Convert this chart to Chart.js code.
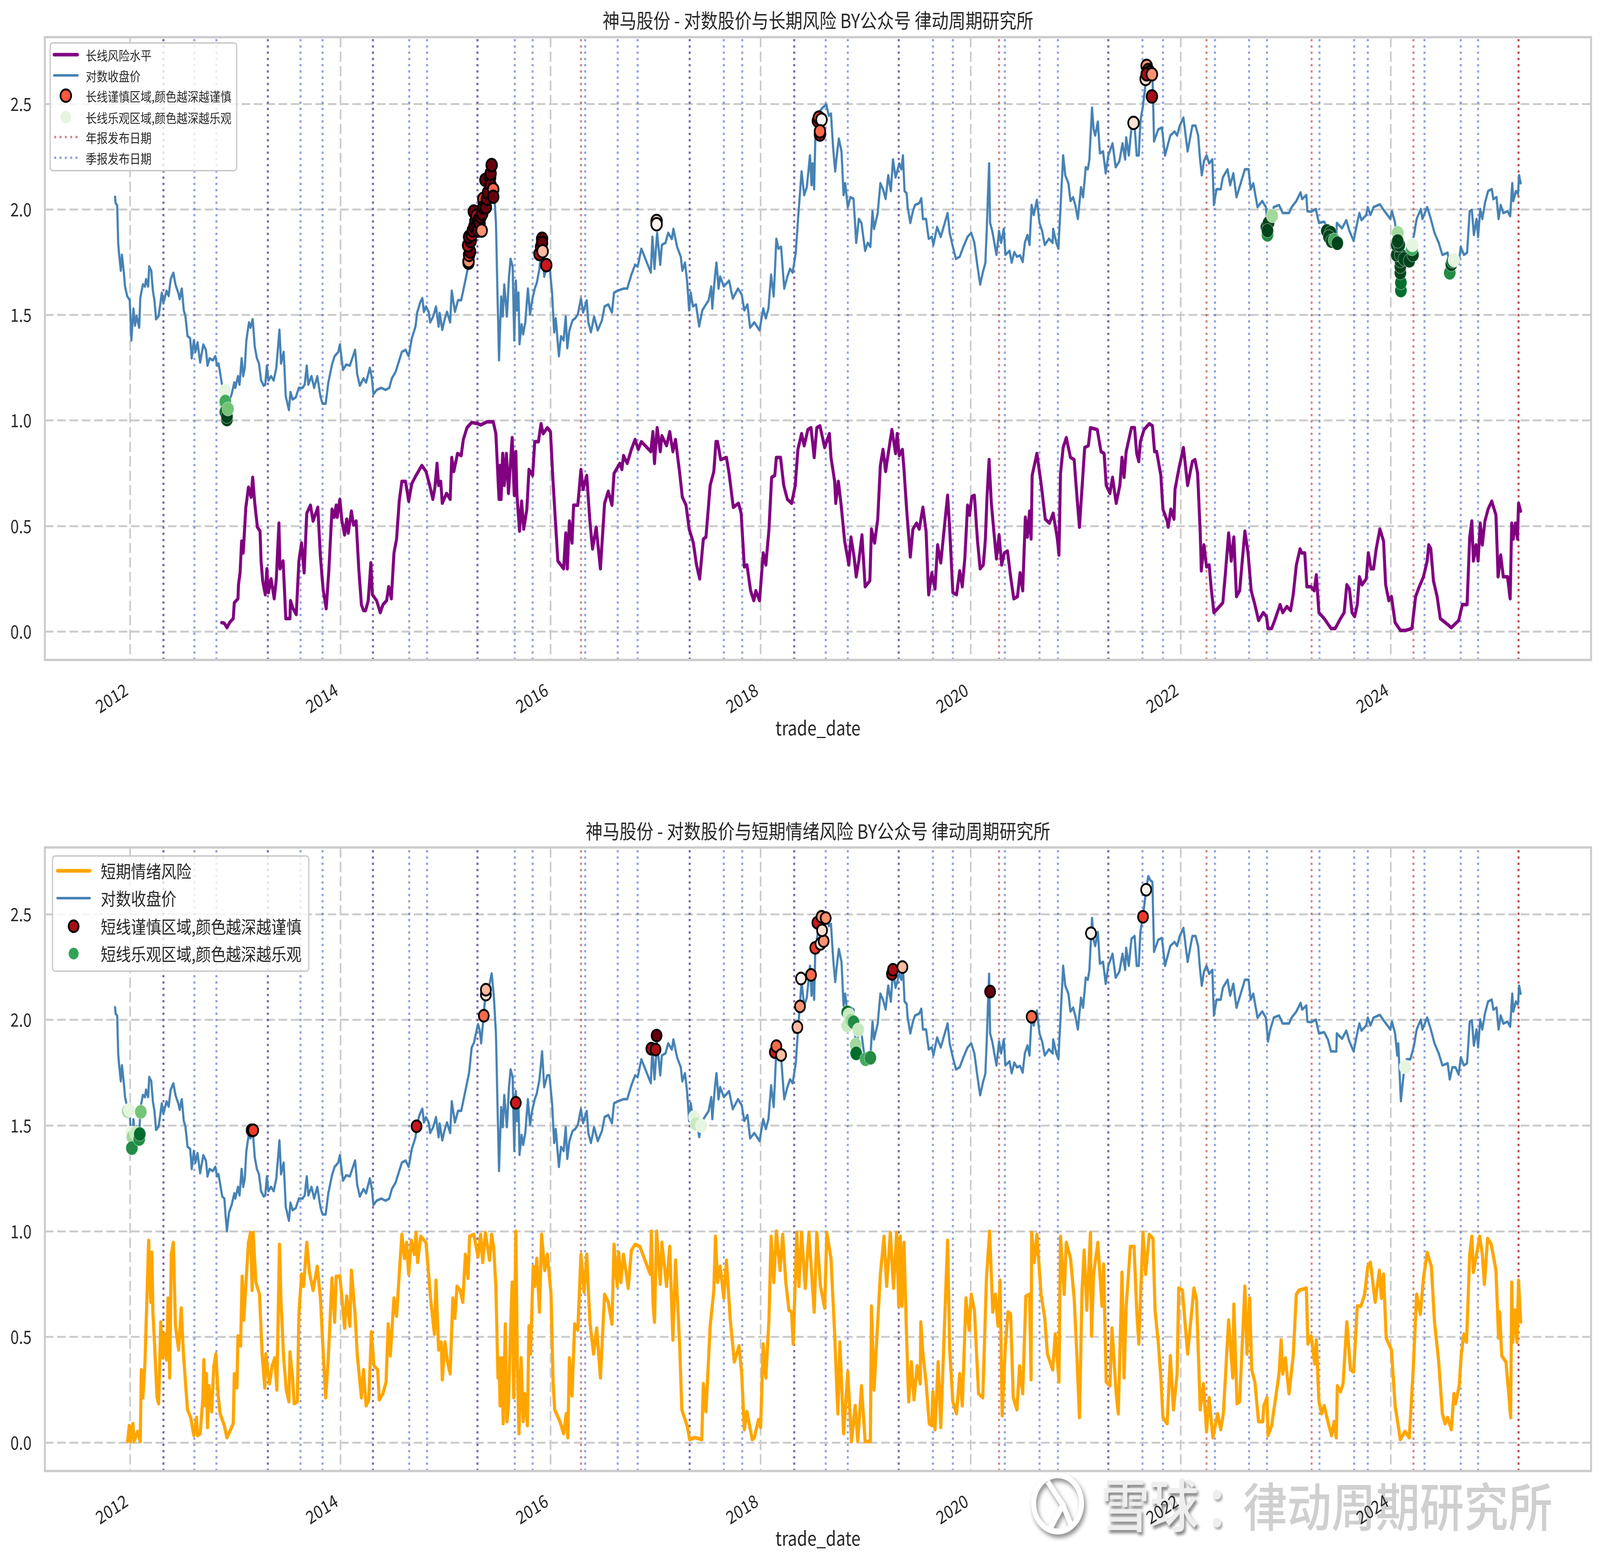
<!DOCTYPE html>
<html>
<head>
<meta charset="utf-8">
<title>神马股份</title>
<script src="https://cdn.jsdelivr.net/npm/chart.js@4/dist/chart.umd.js"></script>
<style>
  html, body { margin: 0; padding: 0; background: #fff; overflow: hidden; }
  #page { position: relative; width: 4814px; height: 4000px; overflow: hidden; transform-origin: 0 0; font-family: "Noto Sans CJK SC", sans-serif; }
  canvas { position: absolute; left: 0; z-index: 2; }
  #top { top: 0; }
  #bottom { top: 2030px; }
  .mark { position: absolute; z-index: 1; line-height: 1; white-space: nowrap; font-weight: 500; }
  #logo { position: absolute; z-index: 1; left: 3100px; top: 3768px; filter: drop-shadow(5px 8px 6px #888); }
</style>
</head>
<body>
<div id="page">
  <svg id="logo" width="164" height="164" viewBox="0 0 164 164" fill="none" stroke="#fff" stroke-width="15">
    <circle cx="82" cy="82" r="72"/>
    <path d="M52 26 L98 86 L60 146 M98 86 L122 136"/>
  </svg>
  <div class="mark" style="left:3312px;top:3772px;font-size:147px;color:#eee;text-shadow:5px 8px 8px #888;">雪球</div>
  <div class="mark" style="left:3625px;top:3772px;font-size:147px;color:#eee;text-shadow:4px 6px 6px #aaa;">：</div>
  <div class="mark" style="left:3740px;top:3785px;font-size:133px;color:#cfcfcf;">律动周期研究所</div>
  <canvas id="top" width="4814" height="2030"></canvas>
  <canvas id="bottom" width="4814" height="1970"></canvas>
</div>
<script>
// browser may clamp the window narrower than the 4814 layout, squeeze to fit
document.getElementById('page').style.transform = 'scale(' + Math.min(1, window.innerWidth / 4814) + ',1)';

// log close price [decimal year, value]
const logPrice = [
  [2011.855,2.06],[2011.86,2.03],[2011.875,2.02],[2011.885,1.84],[2011.895,1.78],[2011.91,1.71],[2011.92,1.785],[2011.935,1.72],
  [2011.95,1.635],[2011.97,1.59],[2011.995,1.57],[2012.01,1.38],[2012.03,1.53],[2012.045,1.45],[2012.06,1.495],[2012.085,1.44],
  [2012.095,1.58],[2012.12,1.645],[2012.14,1.635],[2012.15,1.67],[2012.17,1.635],[2012.18,1.73],[2012.2,1.71],[2012.215,1.615],
  [2012.23,1.57],[2012.245,1.48],[2012.27,1.495],[2012.3,1.605],[2012.315,1.555],[2012.345,1.615],[2012.365,1.59],[2012.385,1.67],
  [2012.41,1.7],[2012.43,1.645],[2012.46,1.6],[2012.47,1.575],[2012.49,1.625],[2012.51,1.52],[2012.525,1.495],[2012.545,1.4],
  [2012.57,1.39],[2012.585,1.295],[2012.605,1.38],[2012.62,1.325],[2012.64,1.37],[2012.665,1.275],[2012.695,1.36],[2012.72,1.335],
  [2012.735,1.26],[2012.755,1.295],[2012.785,1.285],[2012.81,1.305],[2012.825,1.26],[2012.84,1.27],[2012.86,1.21],[2012.875,1.165],
  [2012.895,1.155],[2012.905,1.09],[2012.92,1.0],[2012.94,1.09],[2012.965,1.125],[2012.99,1.18],[2013.0,1.155],[2013.025,1.21],
  [2013.04,1.17],[2013.06,1.295],[2013.075,1.21],[2013.09,1.25],[2013.105,1.38],[2013.13,1.465],[2013.145,1.44],[2013.165,1.48],
  [2013.185,1.35],[2013.205,1.295],[2013.225,1.27],[2013.245,1.19],[2013.27,1.165],[2013.285,1.17],[2013.3,1.26],[2013.315,1.19],
  [2013.34,1.21],[2013.365,1.19],[2013.39,1.25],[2013.42,1.43],[2013.435,1.27],[2013.46,1.325],[2013.48,1.115],[2013.51,1.05],
  [2013.525,1.135],[2013.545,1.1],[2013.575,1.11],[2013.605,1.155],[2013.64,1.155],[2013.66,1.17],[2013.68,1.26],[2013.695,1.17],
  [2013.725,1.21],[2013.75,1.155],[2013.78,1.21],[2013.81,1.115],[2013.83,1.08],[2013.86,1.08],[2013.885,1.18],[2013.92,1.265],
  [2013.945,1.305],[2013.98,1.325],[2013.995,1.36],[2014.025,1.24],[2014.055,1.265],[2014.09,1.26],[2014.14,1.335],[2014.16,1.22],
  [2014.185,1.165],[2014.22,1.2],[2014.245,1.18],[2014.28,1.25],[2014.3,1.2],[2014.315,1.125],[2014.345,1.145],[2014.39,1.155],
  [2014.43,1.145],[2014.465,1.155],[2014.49,1.2],[2014.525,1.23],[2014.56,1.285],[2014.585,1.325],[2014.62,1.335],[2014.65,1.305],
  [2014.68,1.39],[2014.715,1.445],[2014.73,1.51],[2014.76,1.56],[2014.78,1.58],[2014.795,1.515],[2014.815,1.54],[2014.84,1.515],
  [2014.855,1.465],[2014.885,1.495],[2014.91,1.54],[2014.935,1.445],[2014.945,1.51],[2014.97,1.43],[2014.995,1.485],[2015.015,1.515],
  [2015.045,1.465],[2015.06,1.615],[2015.09,1.515],[2015.12,1.57],[2015.15,1.57],[2015.19,1.665],[2015.225,1.75],[2015.25,1.87],
  [2015.27,1.89],[2015.29,1.935],[2015.31,1.98],[2015.325,1.955],[2015.34,1.89],[2015.36,2.0],[2015.38,2.115],[2015.42,2.17],
  [2015.44,2.22],[2015.46,2.115],[2015.48,1.945],[2015.51,1.286],[2015.53,1.587],[2015.545,1.493],[2015.56,1.644],[2015.585,1.493],
  [2015.605,1.682],[2015.62,1.766],[2015.64,1.729],[2015.655,1.38],[2015.67,1.663],[2015.68,1.522],[2015.695,1.606],[2015.705,1.362],
  [2015.725,1.456],[2015.74,1.409],[2015.76,1.465],[2015.785,1.625],[2015.805,1.503],[2015.825,1.569],[2015.85,1.625],[2015.87,1.653],
  [2015.895,1.719],[2015.92,1.851],[2015.94,1.682],[2015.97,1.738],[2015.99,1.738],[2016.015,1.606],[2016.035,1.418],[2016.05,1.484],
  [2016.08,1.305],[2016.1,1.399],[2016.125,1.38],[2016.145,1.493],[2016.16,1.343],[2016.18,1.427],[2016.21,1.475],[2016.235,1.484],
  [2016.26,1.503],[2016.29,1.578],[2016.31,1.512],[2016.345,1.569],[2016.36,1.465],[2016.385,1.418],[2016.415,1.493],[2016.45,1.427],
  [2016.49,1.475],[2016.515,1.541],[2016.55,1.55],[2016.585,1.512],[2016.605,1.606],[2016.645,1.616],[2016.695,1.625],[2016.73,1.625],
  [2016.77,1.691],[2016.805,1.738],[2016.83,1.729],[2016.865,1.814],[2016.955,1.701],[2016.97,1.87],[2016.99,1.719],[2017.015,1.889],
  [2017.045,1.738],[2017.06,1.832],[2017.095,1.842],[2017.12,1.889],[2017.155,1.86],[2017.17,1.908],[2017.205,1.823],[2017.24,1.776],
  [2017.255,1.71],[2017.28,1.748],[2017.3,1.663],[2017.32,1.522],[2017.335,1.606],[2017.355,1.541],[2017.385,1.55],[2017.415,1.446],
  [2017.445,1.522],[2017.48,1.55],[2017.505,1.569],[2017.53,1.635],[2017.54,1.531],[2017.565,1.682],[2017.58,1.748],[2017.6,1.625],
  [2017.615,1.682],[2017.65,1.635],[2017.7,1.663],[2017.735,1.578],[2017.785,1.625],[2017.82,1.597],[2017.845,1.522],[2017.875,1.55],
  [2017.9,1.44],[2017.94,1.465],[2017.99,1.427],[2018.025,1.531],[2018.05,1.484],[2018.075,1.531],[2018.1,1.691],[2018.125,1.588],
  [2018.15,1.861],[2018.17,1.814],[2018.195,1.823],[2018.225,1.625],[2018.255,1.682],[2018.28,1.719],[2018.305,1.701],[2018.335,1.795],
  [2018.355,1.945],[2018.39,2.18],[2018.415,2.068],[2018.44,2.106],[2018.47,2.256],[2018.485,2.115],[2018.495,2.218],[2018.51,2.096],
  [2018.52,2.33],[2018.56,2.463],[2018.59,2.482],[2018.625,2.497],[2018.65,2.444],[2018.67,2.454],[2018.69,2.294],[2018.71,2.18],
  [2018.73,2.275],[2018.745,2.335],[2018.77,2.275],[2018.79,2.068],[2018.805,2.124],[2018.83,2.011],[2018.855,2.058],[2018.885,2.05],
  [2018.91,1.842],[2018.935,1.955],[2018.96,1.936],[2018.995,1.804],[2019.02,1.842],[2019.045,1.823],[2019.065,1.992],[2019.08,1.908],
  [2019.115,1.983],[2019.14,2.124],[2019.165,2.096],[2019.19,2.05],[2019.215,2.162],[2019.24,2.087],[2019.26,2.237],[2019.285,2.152],
  [2019.32,2.218],[2019.34,2.19],[2019.355,2.256],[2019.37,2.087],[2019.39,2.077],[2019.4,2.011],[2019.425,1.936],[2019.45,1.992],
  [2019.47,2.021],[2019.51,2.03],[2019.53,2.053],[2019.545,1.955],[2019.575,1.955],[2019.6,1.861],[2019.63,1.87],[2019.645,1.832],
  [2019.68,1.917],[2019.715,1.87],[2019.78,1.983],[2019.8,1.889],[2019.83,1.823],[2019.86,1.766],[2019.895,1.776],[2019.93,1.823],
  [2019.97,1.87],[2020.005,1.889],[2020.035,1.842],[2020.065,1.729],[2020.09,1.644],[2020.115,1.701],[2020.14,1.748],[2020.155,1.936],
  [2020.175,2.218],[2020.185,1.936],[2020.205,1.898],[2020.225,1.842],[2020.245,1.785],[2020.27,1.898],[2020.29,1.842],[2020.315,1.908],
  [2020.33,1.785],[2020.37,1.804],[2020.39,1.748],[2020.415,1.798],[2020.44,1.776],[2020.47,1.782],[2020.495,1.751],[2020.515,1.842],
  [2020.54,1.879],[2020.56,1.832],[2020.58,2.021],[2020.6,1.974],[2020.63,2.045],[2020.655,1.936],[2020.68,1.898],[2020.705,1.832],
  [2020.745,1.861],[2020.78,1.842],[2020.785,1.908],[2020.815,1.842],[2020.835,1.814],[2020.855,2.011],[2020.88,2.256],[2020.9,2.162],
  [2020.93,2.124],[2020.95,2.04],[2020.975,2.058],[2020.995,2.021],[2021.02,1.955],[2021.05,2.105],[2021.07,2.058],[2021.095,2.2],
  [2021.115,2.19],[2021.13,2.237],[2021.155,2.482],[2021.17,2.379],[2021.185,2.35],[2021.21,2.416],[2021.23,2.266],[2021.26,2.275],
  [2021.285,2.171],[2021.31,2.256],[2021.35,2.313],[2021.38,2.2],[2021.415,2.228],[2021.445,2.313],[2021.47,2.237],[2021.48,2.341],
  [2021.505,2.256],[2021.53,2.384],[2021.56,2.397],[2021.58,2.256],[2021.6,2.256],[2021.615,2.416],[2021.64,2.492],[2021.665,2.595],
  [2021.69,2.68],[2021.71,2.661],[2021.73,2.652],[2021.745,2.322],[2021.785,2.379],[2021.82,2.388],[2021.85,2.256],[2021.87,2.294],
  [2021.9,2.35],[2021.94,2.369],[2021.965,2.35],[2021.99,2.397],[2022.025,2.435],[2022.065,2.275],[2022.11,2.397],[2022.14,2.397],
  [2022.165,2.35],[2022.185,2.228],[2022.2,2.162],[2022.22,2.228],[2022.245,2.256],[2022.27,2.218],[2022.3,2.237],[2022.315,2.021],
  [2022.34,2.096],[2022.38,2.096],[2022.4,2.152],[2022.445,2.19],[2022.47,2.115],[2022.5,2.171],[2022.53,2.058],[2022.57,2.124],
  [2022.61,2.19],[2022.645,2.19],[2022.665,2.096],[2022.69,2.124],[2022.73,2.011],[2022.775,2.04],[2022.81,2.011],[2022.83,1.898],
  [2022.85,1.951],[2022.885,2.011],[2022.935,2.021],[2022.97,1.983],[2023.03,1.983],[2023.055,2.011],[2023.1,2.04],[2023.14,2.081],
  [2023.155,2.049],[2023.195,2.068],[2023.205,1.992],[2023.24,1.989],[2023.285,2.002],[2023.315,1.936],[2023.365,1.942],[2023.4,1.908],
  [2023.43,1.851],[2023.48,1.851],[2023.485,1.936],[2023.535,1.911],[2023.575,1.949],[2023.605,1.898],[2023.645,1.851],[2023.675,1.927],
  [2023.7,1.983],[2023.72,1.949],[2023.765,1.974],[2023.78,2.011],[2023.805,1.974],[2023.835,2.011],[2023.895,2.024],[2023.93,1.998],
  [2023.995,1.955],[2024.01,1.992],[2024.04,1.936],[2024.06,1.832],[2024.07,1.889],[2024.095,1.616],[2024.12,1.738],[2024.15,1.814],
  [2024.185,1.814],[2024.22,1.879],[2024.245,1.955],[2024.285,2.002],[2024.3,1.955],[2024.345,2.011],[2024.38,1.955],[2024.415,1.889],
  [2024.455,1.842],[2024.49,1.785],[2024.54,1.795],[2024.56,1.719],[2024.585,1.776],[2024.615,1.776],[2024.645,1.742],[2024.665,1.823],
  [2024.695,1.785],[2024.725,1.795],[2024.75,1.992],[2024.77,1.998],[2024.79,1.879],[2024.815,1.955],[2024.83,1.87],[2024.85,2.002],
  [2024.87,1.955],[2024.895,2.03],[2024.925,2.087],[2024.96,2.096],[2024.975,2.049],[2025.005,2.058],[2025.025,1.955],[2025.045,2.021],
  [2025.07,1.983],[2025.11,1.992],[2025.135,1.968],[2025.155,2.124],[2025.165,2.04],[2025.19,2.087],[2025.21,2.073],[2025.22,2.162],[2025.235,2.124]
];

// long-term risk level
const longRisk = [
  [2012.87,.043],[2012.895,.04],[2012.92,.019],[2012.945,.043],[2012.98,.062],[2012.99,.137],[2013.025,.156],[2013.03,.222],
  [2013.045,.279],[2013.06,.429],[2013.075,.373],[2013.1,.589],[2013.125,.684],[2013.15,.637],[2013.165,.731],[2013.185,.608],
  [2013.21,.495],[2013.235,.476],[2013.245,.335],[2013.26,.241],[2013.285,.175],[2013.3,.298],[2013.315,.185],[2013.34,.25],
  [2013.37,.156],[2013.39,.25],[2013.415,.514],[2013.425,.298],[2013.455,.335],[2013.48,.062],[2013.52,.062],[2013.525,.147],
  [2013.55,.109],[2013.58,.081],[2013.605,.335],[2013.63,.42],[2013.655,.279],[2013.68,.561],[2013.715,.599],[2013.74,.524],
  [2013.785,.589],[2013.81,.354],[2013.835,.203],[2013.865,.109],[2013.89,.288],[2013.92,.58],[2013.94,.542],[2013.96,.599],
  [2013.97,.542],[2013.995,.627],[2014.015,.524],[2014.04,.458],[2014.06,.533],[2014.075,.467],[2014.105,.571],[2014.125,.505],
  [2014.15,.524],[2014.175,.298],[2014.2,.128],[2014.22,.1],[2014.24,.1],[2014.265,.147],[2014.29,.326],[2014.305,.175],
  [2014.345,.147],[2014.38,.09],[2014.405,.128],[2014.44,.147],[2014.46,.213],[2014.485,.156],[2014.51,.373],[2014.535,.439],
  [2014.56,.618],[2014.585,.712],[2014.62,.712],[2014.65,.618],[2014.68,.702],[2014.72,.74],[2014.775,.787],[2014.815,.759],
  [2014.85,.693],[2014.88,.627],[2014.9,.684],[2014.92,.797],[2014.935,.693],[2014.955,.712],[2014.97,.608],[2015.01,.655],
  [2015.045,.627],[2015.06,.825],[2015.08,.759],[2015.115,.844],[2015.15,.834],[2015.17,.91],[2015.205,.966],[2015.25,.991],
  [2015.31,.985],[2015.335,.979],[2015.395,.994],[2015.455,.994],[2015.48,.938],[2015.51,.627],[2015.52,.787],[2015.53,.627],
  [2015.545,.844],[2015.56,.693],[2015.58,.844],[2015.6,.655],[2015.635,.919],[2015.655,.646],[2015.67,.853],[2015.68,.655],
  [2015.705,.476],[2015.725,.618],[2015.745,.486],[2015.775,.58],[2015.795,.768],[2015.83,.74],[2015.85,.9],[2015.885,.9],
  [2015.91,.985],[2015.93,.938],[2015.97,.966],[2016.0,.947],[2016.02,.75],[2016.04,.58],[2016.07,.335],[2016.125,.298],
  [2016.145,.467],[2016.16,.298],[2016.18,.524],[2016.205,.42],[2016.22,.599],[2016.26,.599],[2016.29,.768],[2016.31,.674],
  [2016.345,.74],[2016.375,.524],[2016.4,.392],[2016.435,.495],[2016.475,.298],[2016.515,.608],[2016.55,.665],[2016.585,.599],
  [2016.605,.75],[2016.66,.797],[2016.68,.768],[2016.695,.834],[2016.73,.797],[2016.77,.863],[2016.805,.91],[2016.835,.863],
  [2016.865,.9],[2016.955,.853],[2016.975,.947],[2016.99,.797],[2017.015,.966],[2017.045,.853],[2017.06,.928],[2017.105,.881],
  [2017.135,.947],[2017.165,.853],[2017.19,.91],[2017.23,.75],[2017.255,.637],[2017.29,.599],[2017.32,.486],[2017.36,.42],
  [2017.39,.316],[2017.42,.25],[2017.455,.439],[2017.48,.448],[2017.52,.693],[2017.555,.759],[2017.575,.9],[2017.59,.9],
  [2017.62,.815],[2017.675,.825],[2017.7,.75],[2017.74,.589],[2017.79,.608],[2017.815,.561],[2017.845,.307],[2017.87,.316],
  [2017.905,.194],[2017.935,.147],[2017.955,.194],[2017.99,.147],[2018.025,.373],[2018.05,.316],[2018.08,.486],[2018.105,.731],
  [2018.135,.74],[2018.15,.825],[2018.19,.825],[2018.22,.693],[2018.255,.627],[2018.295,.608],[2018.33,.693],[2018.355,.863],
  [2018.39,.938],[2018.415,.881],[2018.45,.957],[2018.48,.966],[2018.51,.825],[2018.535,.966],[2018.565,.975],[2018.61,.872],
  [2018.655,.938],[2018.67,.825],[2018.705,.712],[2018.715,.608],[2018.74,.712],[2018.765,.608],[2018.8,.429],[2018.84,.316],
  [2018.86,.448],[2018.89,.354],[2018.91,.26],[2018.935,.335],[2018.965,.458],[2018.995,.213],[2019.04,.241],[2019.055,.486],
  [2019.085,.42],[2019.115,.533],[2019.14,.787],[2019.165,.863],[2019.19,.759],[2019.215,.844],[2019.25,.957],[2019.285,.844],
  [2019.3,.938],[2019.32,.834],[2019.35,.863],[2019.365,.768],[2019.39,.58],[2019.425,.354],[2019.45,.486],[2019.485,.514],
  [2019.51,.486],[2019.545,.589],[2019.575,.476],[2019.6,.175],[2019.63,.279],[2019.66,.203],[2019.685,.411],[2019.715,.326],
  [2019.78,.646],[2019.8,.486],[2019.83,.185],[2019.865,.175],[2019.895,.288],[2019.92,.213],[2019.945,.354],[2019.97,.599],
  [2019.99,.552],[2020.01,.64],[2020.035,.646],[2020.065,.429],[2020.09,.298],[2020.12,.316],[2020.14,.439],[2020.155,.637],
  [2020.175,.815],[2020.195,.618],[2020.22,.476],[2020.245,.345],[2020.27,.458],[2020.295,.316],[2020.32,.373],[2020.35,.382],
  [2020.38,.26],[2020.41,.156],[2020.445,.166],[2020.47,.279],[2020.495,.194],[2020.52,.542],[2020.54,.448],[2020.56,.571],
  [2020.575,.439],[2020.585,.74],[2020.63,.844],[2020.67,.702],[2020.71,.533],[2020.75,.514],[2020.785,.561],[2020.825,.439],
  [2020.84,.363],[2020.855,.75],[2020.88,.872],[2020.91,.919],[2020.95,.825],[2020.985,.815],[2021.0,.712],[2021.035,.495],
  [2021.06,.684],[2021.085,.872],[2021.12,.881],[2021.14,.966],[2021.205,.957],[2021.24,.853],[2021.27,.844],[2021.29,.693],
  [2021.325,.655],[2021.35,.731],[2021.385,.608],[2021.42,.693],[2021.44,.825],[2021.46,.731],[2021.48,.853],[2021.53,.966],
  [2021.56,.966],[2021.58,.844],[2021.6,.806],[2021.615,.9],[2021.65,.957],[2021.7,.985],[2021.73,.975],[2021.75,.853],
  [2021.77,.853],[2021.81,.74],[2021.83,.58],[2021.87,.524],[2021.88,.495],[2021.905,.58],[2021.935,.533],[2021.945,.674],
  [2021.98,.768],[2022.025,.872],[2022.065,.693],[2022.11,.806],[2022.135,.815],[2022.16,.75],[2022.185,.467],[2022.195,.288],
  [2022.22,.411],[2022.245,.307],[2022.27,.316],[2022.29,.203],[2022.315,.09],[2022.35,.109],[2022.4,.137],[2022.425,.279],
  [2022.455,.467],[2022.48,.335],[2022.505,.448],[2022.53,.166],[2022.56,.194],[2022.61,.476],[2022.64,.373],[2022.67,.194],
  [2022.705,.128],[2022.74,.053],[2022.785,.09],[2022.815,.072],[2022.83,.015],[2022.865,.015],[2022.9,.062],[2022.945,.128],
  [2022.97,.09],[2023.01,.119],[2023.045,.1],[2023.07,.175],[2023.1,.316],[2023.135,.392],[2023.15,.373],[2023.18,.373],
  [2023.2,.213],[2023.24,.213],[2023.27,.194],[2023.29,.269],[2023.315,.09],[2023.365,.062],[2023.43,.015],[2023.47,.015],
  [2023.52,.062],[2023.555,.09],[2023.58,.222],[2023.605,.203],[2023.63,.09],[2023.655,.072],[2023.68,.128],[2023.7,.26],
  [2023.725,.222],[2023.765,.25],[2023.785,.373],[2023.81,.298],[2023.835,.298],[2023.86,.392],[2023.895,.486],[2023.93,.429],
  [2023.95,.222],[2023.98,.147],[2024.005,.166],[2024.04,.043],[2024.09,.006],[2024.14,.006],[2024.2,.015],[2024.235,.166],
  [2024.27,.213],[2024.31,.26],[2024.345,.335],[2024.36,.411],[2024.38,.392],[2024.405,.241],[2024.44,.166],[2024.47,.062],
  [2024.54,.034],[2024.575,.019],[2024.645,.053],[2024.68,.128],[2024.725,.128],[2024.75,.448],[2024.77,.524],[2024.785,.335],
  [2024.81,.411],[2024.83,.335],[2024.85,.514],[2024.87,.411],[2024.895,.524],[2024.925,.58],[2024.96,.618],[2025.0,.552],
  [2025.02,.26],[2025.045,.363],[2025.07,.26],[2025.11,.26],[2025.135,.156],[2025.15,.514],[2025.165,.439],[2025.185,.514],
  [2025.205,.439],[2025.215,.608],[2025.235,.571]
];

// short-term sentiment risk
const shortRisk = [
  [2011.975,.006],[2011.99,.081],[2012.0,.006],[2012.025,.09],[2012.035,.006],[2012.07,.053],[2012.095,.006],[2012.105,.345],
  [2012.12,.213],[2012.14,.382],[2012.155,.627],[2012.175,.957],[2012.195,.665],[2012.205,.9],[2012.215,.618],[2012.23,.476],
  [2012.255,.213],[2012.27,.185],[2012.29,.571],[2012.31,.401],[2012.325,.514],[2012.345,.392],[2012.36,.684],[2012.375,.307],
  [2012.39,.891],[2012.41,.947],[2012.43,.552],[2012.46,.439],[2012.485,.637],[2012.505,.429],[2012.525,.288],[2012.545,.156],
  [2012.575,.119],[2012.605,.034],[2012.63,.119],[2012.64,.034],[2012.665,.043],[2012.69,.203],[2012.7,.392],[2012.715,.175],
  [2012.725,.326],[2012.735,.072],[2012.75,.269],[2012.775,.147],[2012.795,.363],[2012.815,.42],[2012.835,.232],[2012.855,.137],
  [2012.895,.081],[2012.92,.024],[2012.955,.062],[2012.98,.09],[2012.99,.326],[2013.015,.26],[2013.025,.505],[2013.05,.458],
  [2013.065,.787],[2013.08,.58],[2013.105,.787],[2013.125,.947],[2013.145,.994],[2013.16,.721],[2013.17,.994],[2013.195,.759],
  [2013.23,.702],[2013.255,.42],[2013.28,.26],[2013.29,.42],[2013.325,.279],[2013.35,.363],[2013.375,.401],[2013.395,.25],
  [2013.42,.938],[2013.435,.665],[2013.46,.401],[2013.485,.25],[2013.51,.194],[2013.52,.429],[2013.545,.307],[2013.56,.185],
  [2013.59,.194],[2013.605,.608],[2013.63,.797],[2013.65,.74],[2013.68,.947],[2013.705,.806],[2013.74,.721],[2013.78,.834],
  [2013.81,.684],[2013.835,.439],[2013.86,.213],[2013.885,.401],[2013.92,.778],[2013.945,.571],[2013.96,.787],[2013.995,.787],
  [2014.015,.684],[2014.04,.542],[2014.06,.693],[2014.09,.552],[2014.105,.815],[2014.14,.608],[2014.16,.42],[2014.2,.213],
  [2014.22,.345],[2014.245,.175],[2014.27,.203],[2014.295,.524],[2014.32,.363],[2014.355,.345],[2014.37,.203],[2014.405,.232],
  [2014.435,.288],[2014.455,.561],[2014.475,.411],[2014.51,.684],[2014.535,.599],[2014.56,.797],[2014.585,.985],[2014.61,.872],
  [2014.63,.947],[2014.65,.797],[2014.675,.957],[2014.705,.891],[2014.72,.994],[2014.735,.853],[2014.765,.976],[2014.815,.947],
  [2014.84,.797],[2014.86,.674],[2014.895,.514],[2014.91,.768],[2014.935,.439],[2014.96,.476],[2014.97,.298],[2014.995,.476],
  [2015.02,.382],[2015.045,.326],[2015.07,.684],[2015.09,.589],[2015.11,.74],[2015.14,.721],[2015.165,.665],[2015.19,.891],
  [2015.215,.778],[2015.23,.976],[2015.27,.985],[2015.31,.881],[2015.335,.985],[2015.355,.853],[2015.38,.994],[2015.42,.863],
  [2015.44,.985],[2015.46,.919],[2015.48,.74],[2015.5,.307],[2015.51,.401],[2015.52,.175],[2015.535,.401],[2015.55,.09],
  [2015.57,.561],[2015.585,.1],[2015.6,.175],[2015.615,.458],[2015.635,.759],[2015.65,.213],[2015.67,1.0],[2015.685,.363],
  [2015.7,.043],[2015.72,.401],[2015.74,.1],[2015.755,.232],[2015.78,.081],[2015.795,.552],[2015.81,.42],[2015.835,.834],
  [2015.85,.74],[2015.87,.872],[2015.895,.618],[2015.915,.985],[2015.945,.815],[2015.97,.891],[2016.005,.702],[2016.025,.288],
  [2016.04,.156],[2016.09,.1],[2016.125,.043],[2016.15,.137],[2016.165,.024],[2016.18,.401],[2016.205,.222],[2016.23,.561],
  [2016.26,.533],[2016.29,.891],[2016.32,.712],[2016.345,.891],[2016.375,.571],[2016.41,.42],[2016.44,.542],[2016.475,.307],
  [2016.515,.702],[2016.55,.665],[2016.585,.561],[2016.605,.938],[2016.635,.74],[2016.65,.9],[2016.67,.759],[2016.695,.891],
  [2016.74,.731],[2016.77,.91],[2016.805,.938],[2016.85,.928],[2016.95,.797],[2016.96,1.0],[2016.975,.665],[2016.99,.571],
  [2017.01,1.0],[2017.045,.75],[2017.06,.947],[2017.105,.74],[2017.135,.928],[2017.165,.486],[2017.19,.863],[2017.23,.458],
  [2017.25,.156],[2017.3,.081],[2017.325,.015],[2017.375,.024],[2017.44,.015],[2017.455,.279],[2017.48,.147],[2017.52,.552],
  [2017.555,.721],[2017.57,.976],[2017.59,.759],[2017.615,.834],[2017.65,.684],[2017.675,.863],[2017.71,.589],[2017.75,.382],
  [2017.795,.458],[2017.82,.326],[2017.845,.062],[2017.87,.147],[2017.92,.015],[2017.94,.024],[2017.98,.109],[2018.0,.072],
  [2018.025,.467],[2018.05,.307],[2018.08,.589],[2018.1,.976],[2018.125,.759],[2018.15,1.0],[2018.185,.815],[2018.21,.985],
  [2018.24,.759],[2018.27,.627],[2018.295,.618],[2018.31,.467],[2018.345,.994],[2018.365,.74],[2018.39,.994],[2018.425,.731],
  [2018.46,.994],[2018.51,.618],[2018.535,.994],[2018.57,.74],[2018.61,.637],[2018.63,.994],[2018.67,.872],[2018.705,.514],
  [2018.735,.137],[2018.755,.476],[2018.79,.043],[2018.83,.335],[2018.865,.006],[2018.9,.175],[2018.925,.006],[2018.96,.269],
  [2018.995,.006],[2019.045,.006],[2019.055,.646],[2019.08,.25],[2019.115,.571],[2019.14,.797],[2019.175,.976],[2019.2,.74],
  [2019.235,.994],[2019.265,.731],[2019.295,.994],[2019.315,.646],[2019.33,.976],[2019.345,.646],[2019.365,.947],[2019.39,.495],
  [2019.41,.194],[2019.435,.382],[2019.46,.203],[2019.49,.363],[2019.52,.279],[2019.525,.571],[2019.545,.42],[2019.575,.288],
  [2019.605,.09],[2019.63,.081],[2019.64,.241],[2019.66,.062],[2019.69,.382],[2019.715,.072],[2019.78,.957],[2019.8,.439],
  [2019.83,.194],[2019.865,.137],[2019.895,.326],[2019.92,.175],[2019.955,.684],[2019.985,.533],[2020.005,.702],[2020.035,.627],
  [2020.075,.232],[2020.115,.213],[2020.15,.778],[2020.18,1.0],[2020.21,.618],[2020.235,.702],[2020.26,.552],[2020.28,.768],
  [2020.3,.128],[2020.33,.458],[2020.355,.618],[2020.38,.608],[2020.405,.213],[2020.44,.156],[2020.465,.363],[2020.495,.232],
  [2020.525,.693],[2020.56,.702],[2020.575,.298],[2020.58,.994],[2020.605,.853],[2020.63,.985],[2020.67,.702],[2020.705,.589],
  [2020.73,.42],[2020.78,.345],[2020.805,.514],[2020.84,.288],[2020.855,.976],[2020.89,.702],[2020.91,.947],[2020.95,.872],
  [2020.985,.684],[2021.01,.42],[2021.035,.119],[2021.06,.721],[2021.08,.91],[2021.105,.627],[2021.14,.994],[2021.15,.505],
  [2021.17,.797],[2021.21,.947],[2021.25,.646],[2021.265,.844],[2021.29,.288],[2021.325,.269],[2021.345,.542],[2021.385,.232],
  [2021.405,.137],[2021.44,.806],[2021.46,.307],[2021.48,.646],[2021.52,.928],[2021.555,.928],[2021.58,.627],[2021.6,.467],
  [2021.64,.994],[2021.665,.797],[2021.7,.985],[2021.735,.966],[2021.755,.627],[2021.785,.476],[2021.81,.307],[2021.83,.119],
  [2021.87,.09],[2021.9,.411],[2021.93,.156],[2021.965,.326],[2021.98,.731],[2022.015,.721],[2022.065,.42],[2022.125,.731],
  [2022.15,.674],[2022.185,.156],[2022.215,.279],[2022.245,.053],[2022.27,.213],[2022.305,.024],[2022.35,.137],[2022.38,.062],
  [2022.405,.137],[2022.455,.58],[2022.495,.307],[2022.505,.655],[2022.535,.185],[2022.56,.194],[2022.61,.74],[2022.63,.42],
  [2022.655,.684],[2022.675,.345],[2022.705,.288],[2022.74,.1],[2022.78,.1],[2022.79,.175],[2022.82,.213],[2022.83,.034],
  [2022.865,.081],[2022.9,.203],[2022.935,.326],[2022.955,.486],[2022.97,.326],[2022.995,.401],[2023.03,.232],[2023.07,.411],
  [2023.1,.702],[2023.125,.721],[2023.195,.731],[2023.21,.467],[2023.24,.505],[2023.275,.373],[2023.29,.486],[2023.315,.194],
  [2023.34,.137],[2023.365,.175],[2023.4,.1],[2023.435,.034],[2023.46,.1],[2023.48,.024],[2023.49,.269],[2023.52,.241],
  [2023.545,.279],[2023.58,.571],[2023.615,.345],[2023.645,.335],[2023.68,.646],[2023.715,.646],[2023.75,.702],[2023.78,.834],
  [2023.805,.853],[2023.85,.665],[2023.89,.815],[2023.91,.684],[2023.93,.797],[2023.955,.495],[2024.005,.439],[2024.04,.175],
  [2024.09,.015],[2024.135,.053],[2024.175,.024],[2024.21,.326],[2024.245,.702],[2024.28,.608],[2024.31,.778],[2024.345,.9],
  [2024.385,.834],[2024.415,.571],[2024.455,.382],[2024.49,.137],[2024.515,.09],[2024.54,.119],[2024.575,.062],[2024.6,.232],
  [2024.615,.185],[2024.65,.269],[2024.67,.42],[2024.695,.514],[2024.72,.476],[2024.75,.891],[2024.77,.976],[2024.785,.806],
  [2024.815,.891],[2024.845,.976],[2024.87,.891],[2024.89,.75],[2024.92,.966],[2024.955,.938],[2025.0,.815],[2025.025,.495],
  [2025.035,.618],[2025.055,.411],[2025.095,.382],[2025.12,.241],[2025.14,.119],[2025.15,.759],[2025.16,.476],[2025.18,.627],
  [2025.2,.476],[2025.215,.768],[2025.235,.571]
];

// signal dots: [decimal year, log price, depth 0-8]
const longCaution = [
  [2015.22,1.748,8],[2015.22,1.755,3],[2015.225,1.785,5],[2015.235,1.8,8],[2015.215,1.83,7],[2015.24,1.85,8],[2015.225,1.87,8],[2015.25,1.88,7],
  [2015.26,1.9,8],[2015.275,1.92,8],[2015.285,1.945,8],[2015.27,1.99,8],[2015.295,1.97,7],[2015.3,1.92,8],[2015.31,1.9,8],[2015.315,1.95,8],
  [2015.325,1.935,8],[2015.335,1.965,8],[2015.345,1.9,3],[2015.36,2.05,5],[2015.35,1.98,8],[2015.36,2.01,8],[2015.385,2.01,8],[2015.395,2.05,8],
  [2015.405,2.08,8],[2015.41,2.13,7],[2015.38,2.14,8],[2015.425,2.15,8],[2015.43,2.115,8],[2015.43,2.17,8],[2015.44,2.21,8],[2015.455,2.095,4],[2015.455,2.06,8],
  [2015.895,1.789,7],[2015.91,1.823,7],[2015.92,1.861,8],[2015.92,1.842,8],[2015.925,1.802,2],[2015.96,1.736,6],
  [2017.01,1.945,1],[2017.01,1.93,0],
  [2018.545,2.42,7],[2018.555,2.435,5],[2018.58,2.425,0],[2018.565,2.355,7],[2018.565,2.37,4],
  [2021.55,2.41,1],[2021.665,2.618,1],[2021.675,2.68,3],[2021.69,2.66,5],[2021.7,2.65,6],[2021.675,2.64,7],[2021.725,2.64,3],[2021.725,2.535,7]
];
const longOptimist = [
  [2012.9,1.14,1],[2012.9,1.08,2],[2012.905,1.09,5],[2012.905,1.04,7],[2012.92,1.005,8],[2012.92,1.02,8],[2012.93,1.055,4],
  [2022.825,1.88,6],[2022.815,1.917,8],[2022.835,1.936,8],[2022.825,1.9,8],[2022.87,1.97,3],
  [2023.39,1.898,8],[2023.425,1.89,8],[2023.41,1.87,8],[2023.435,1.85,8],[2023.46,1.855,5],[2023.49,1.84,8],
  [2024.065,1.889,3],[2024.095,1.616,7],[2024.095,1.653,7],[2024.09,1.7,8],[2024.09,1.73,8],[2024.09,1.757,8],[2024.055,1.785,8],[2024.09,1.785,8],
  [2024.055,1.832,8],[2024.08,1.832,8],[2024.065,1.85,8],[2024.125,1.766,8],[2024.175,1.757,8],[2024.21,1.785,8],[2024.2,1.814,5],[2024.205,1.832,1],
  [2024.56,1.7,6],[2024.575,1.74,8],[2024.585,1.755,7],[2024.6,1.76,1]
];
const shortCaution = [
  [2013.155,1.478,8],[2013.17,1.478,5],[2014.725,1.497,6],[2015.365,2.02,4],[2015.385,2.12,1],[2015.385,2.143,2],[2015.67,1.608,6],
  [2016.96,1.864,7],[2017.0,1.86,7],[2017.01,1.926,8],[2018.135,1.848,6],[2018.15,1.876,4],[2018.195,1.834,2],
  [2018.35,1.966,2],[2018.375,2.064,3],[2018.385,2.196,0],[2018.48,2.213,4],[2018.52,2.341,5],[2018.57,2.36,1],[2018.6,2.373,3],
  [2018.54,2.46,6],[2018.585,2.424,1],[2018.58,2.488,3],[2018.62,2.482,3],
  [2019.25,2.218,7],[2019.26,2.237,7],[2019.35,2.25,2],[2020.185,2.134,8],[2020.58,2.015,4],[2021.145,2.41,0],[2021.64,2.488,5],[2021.67,2.616,0]
];
const shortOptimist = [
  [2011.975,1.569,3],[2011.99,1.574,1],[2012.1,1.565,4],[2012.01,1.465,1],[2012.02,1.446,3],[2012.05,1.465,2],[2012.015,1.394,6],[2012.085,1.437,6],[2012.09,1.46,7],
  [2017.37,1.54,1],[2017.385,1.508,2],[2017.435,1.499,1],
  [2018.825,2.036,7],[2018.84,2.024,2],[2018.825,1.974,2],[2018.86,1.998,3],[2018.885,1.989,6],[2018.93,1.953,2],[2018.905,1.883,3],[2018.91,1.842,7],[2019.0,1.814,5],[2019.045,1.821,6],
  [2024.135,1.778,1]
];

// report dates
const annualDates = [2012.316,2013.31,2014.31,2015.305,2016.29,2017.325,2018.32,2019.315,2020.27,2021.31,2022.245,2023.245,2024.215,2025.215,2025.215];
const quarterDates = [
  2012.316,2012.61,2012.82,2013.31,2013.62,2013.83,2014.31,2014.655,2014.825,2015.305,2015.66,2015.83,2016.33,2016.64,2016.83,
  2017.325,2017.65,2017.825,2018.32,2018.62,2018.83,2019.315,2019.64,2019.83,2020.325,2020.655,2020.83,2021.31,2021.635,2021.83,
  2022.325,2022.65,2022.82,2023.32,2023.65,2023.78,2024.32,2024.665,2024.83
];

const xTicks = [2012,2014,2016,2018,2020,2022,2024];
const yTicks = [0,0.5,1,1.5,2,2.5];

const redsMap = ['#fff5f0','#fee0d2','#fcbba1','#fc9272','#fb6a4a','#ef3b2c','#cb181d','#a50f15','#67000d'];
const greensMap = ['#f7fcf5','#e5f5e0','#c7e9c0','#a1d99b','#74c476','#41ab5d','#238b45','#006d2c','#00441b'];

const FONT = '"Noto Sans CJK SC", sans-serif';
const INK = '#262626';
const X_MIN = 2011.187, X_MAX = 2025.905;
const Y_MIN = -0.134, Y_MAX = 2.816;
const ANNUAL_COLOR = 'rgba(170,40,40,0.55)';
const QUARTER_COLOR = 'rgba(60,85,200,0.55)';

const toXY = rows => rows.map(r => ({ x: r[0], y: r[1] }));

function vline(date, color) {
  return {
    data: [{ x: date, y: Y_MIN }, { x: date, y: Y_MAX }],
    showLine: true, borderColor: color, borderWidth: 6, borderDash: [6, 10],
    pointRadius: 0, order: 5
  };
}

function lineSet(rows, color, width, order) {
  return {
    data: toXY(rows), showLine: true, borderColor: color, borderWidth: width,
    borderJoinStyle: 'round', borderCapStyle: 'round', pointRadius: 0, tension: 0, order: order
  };
}

function dots(rows, cmap, radius, edge, edgeWidth) {
  return {
    data: toXY(rows), showLine: false, order: 1,
    pointRadius: radius, pointBorderWidth: edgeWidth, pointBorderColor: edge,
    pointBackgroundColor: rows.map(r => cmap[r[2]])
  };
}

// legend box sits inside the plot, the stock one can't go there
function insideLegend(cfg) {
  return {
    id: 'insideLegend',
    afterDraw(chart) {
      const ctx = chart.ctx;
      ctx.save();
      ctx.beginPath();
      ctx.roundRect(cfg.left, cfg.top, cfg.right - cfg.left, cfg.bottom - cfg.top, 8);
      ctx.fillStyle = 'rgba(255,255,255,0.8)';
      ctx.fill();
      ctx.lineWidth = 4;
      ctx.strokeStyle = '#cccccc';
      ctx.stroke();
      ctx.font = cfg.fontSize + 'px ' + FONT;
      ctx.textBaseline = 'middle';
      cfg.rows.forEach((row, i) => {
        const y = cfg.rowY[i];
        if (row.line) {
          ctx.beginPath();
          ctx.setLineDash(row.dash || []);
          ctx.lineCap = row.dash ? 'butt' : 'round';
          ctx.lineWidth = row.width;
          ctx.strokeStyle = row.line;
          ctx.moveTo(cfg.lineFrom, y);
          ctx.lineTo(cfg.lineTo, y);
          ctx.stroke();
          ctx.setLineDash([]);
        } else {
          ctx.beginPath();
          ctx.arc((cfg.lineFrom + cfg.lineTo) / 2, y, cfg.dotRadius, 0, Math.PI * 2);
          ctx.fillStyle = row.dot;
          ctx.fill();
          if (row.edge) {
            ctx.lineWidth = 5;
            ctx.strokeStyle = row.edge;
            ctx.stroke();
          }
        }
        ctx.fillStyle = INK;
        ctx.fillText(row.label, cfg.textX, y + 2);
      });
      ctx.restore();
    }
  };
}

const frame = {
  id: 'frame',
  afterDatasetsDraw(chart) {
    const a = chart.chartArea, ctx = chart.ctx;
    ctx.save();
    ctx.lineWidth = 6;
    ctx.strokeStyle = '#cccccc';
    ctx.strokeRect(a.left, a.top, a.right - a.left, a.bottom - a.top);
    ctx.restore();
  }
};

function makeChart(id, cfg) {
  // later entries paint first, so annual sits under quarterly
  const datasets = [
    ...cfg.dotSets,
    lineSet(logPrice, '#4682b4', 6.5, 2),
    lineSet(cfg.risk, cfg.riskColor, cfg.riskWidth, 3),
    ...quarterDates.map(d => vline(d, QUARTER_COLOR)),
    ...annualDates.map(d => vline(d, ANNUAL_COLOR))
  ];
  return new Chart(document.getElementById(id), {
    type: 'scatter',
    data: { datasets: datasets },
    plugins: [frame, insideLegend(cfg.legend)],
    options: {
      responsive: false,
      animation: false,
      devicePixelRatio: 1,
      layout: { padding: cfg.padding },
      plugins: {
        legend: { display: false },
        tooltip: { enabled: false },
        title: {
          display: true, text: cfg.title, color: INK, fullSize: false,
          font: { family: FONT, size: 51, weight: 'normal', lineHeight: 1.2 },
          padding: cfg.titlePadding
        }
      },
      scales: {
        x: {
          type: 'linear', min: X_MIN, max: X_MAX,
          afterBuildTicks: axis => { axis.ticks = xTicks.map(v => ({ value: v })); },
          afterFit: axis => { axis.height = cfg.xAxisHeight; },
          ticks: {
            color: INK, font: { family: FONT, size: 46 }, padding: 48, labelOffset: -12,
            maxRotation: 30, minRotation: 30, autoSkip: false,
            callback: v => String(v)
          },
          grid: { color: '#cccccc', lineWidth: 5, drawTicks: false },
          border: { display: false, dash: [26, 11] },
          title: { display: true, text: 'trade_date', color: INK, font: { family: FONT, size: 50, lineHeight: 1.2 }, padding: 0 }
        },
        y: {
          type: 'linear', min: Y_MIN, max: Y_MAX,
          afterBuildTicks: axis => { axis.ticks = yTicks.map(v => ({ value: v })); },
          afterFit: axis => { axis.width = 135; },
          ticks: { color: INK, font: { family: FONT, size: 46 }, padding: 40, callback: v => v.toFixed(1) },
          grid: { color: '#cccccc', lineWidth: 5, drawTicks: false },
          border: { display: false, dash: [26, 11] }
        }
      }
    }
  });
}

makeChart('top', {
  title: '神马股份 - 对数股价与长期风险 BY公众号 律动周期研究所',
  risk: longRisk, riskColor: '#800080', riskWidth: 9,
  dotSets: [dots(longCaution, redsMap, 16, '#000000', 5), dots(longOptimist, greensMap, 18, 'rgba(255,255,255,0.4)', 2)],
  padding: { left: 0, right: 27, top: 0, bottom: 136 },
  titlePadding: { top: 22, bottom: 12 },
  xAxisHeight: 204,
  legend: {
    left: 151, right: 712, top: 110, bottom: 437, fontSize: 33,
    lineFrom: 163, lineTo: 233, textX: 258, dotRadius: 16,
    rowY: [140, 193, 245, 300, 351, 404],
    rows: [
      { label: '长线风险水平', line: '#800080', width: 9 },
      { label: '对数收盘价', line: '#4682b4', width: 6.5 },
      { label: '长线谨慎区域,颜色越深越谨慎', dot: '#fb5a3c', edge: '#000000' },
      { label: '长线乐观区域,颜色越深越乐观', dot: '#e5f5e0' },
      { label: '年报发布日期', line: ANNUAL_COLOR, width: 6, dash: [6, 10] },
      { label: '季报发布日期', line: QUARTER_COLOR, width: 6, dash: [6, 10] }
    ]
  }
});

makeChart('bottom', {
  title: '神马股份 - 对数股价与短期情绪风险 BY公众号 律动周期研究所',
  risk: shortRisk, riskColor: '#ffa500', riskWidth: 9.5,
  dotSets: [dots(shortCaution, redsMap, 15, '#000000', 5), dots(shortOptimist, greensMap, 18, 'rgba(255,255,255,0.4)', 2)],
  padding: { left: 0, right: 27, top: 68, bottom: 31 },
  titlePadding: { top: 0, bottom: 11 },
  xAxisHeight: 202,
  legend: {
    left: 158, right: 929, top: 162, bottom: 457, fontSize: 45.5,
    lineFrom: 173, lineTo: 270, textX: 303, dotRadius: 15,
    rowY: [200, 270, 342, 412],
    rows: [
      { label: '短期情绪风险', line: '#ffa500', width: 9.5 },
      { label: '对数收盘价', line: '#4682b4', width: 6.5 },
      { label: '短线谨慎区域,颜色越深越谨慎', dot: '#a50f15', edge: '#000000' },
      { label: '短线乐观区域,颜色越深越乐观', dot: '#31a354' }
    ]
  }
});
</script>
</body>
</html>
